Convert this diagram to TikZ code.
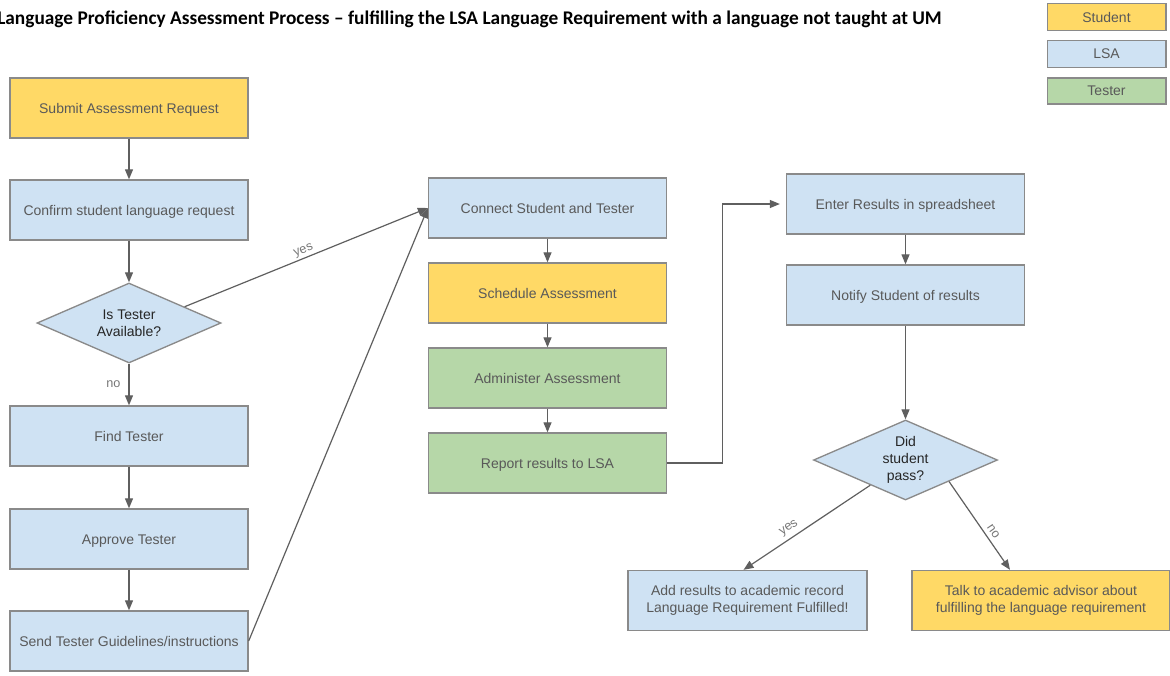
\documentclass[tikz,border=0pt]{standalone}
\usepackage{fontspec}
\setmainfont{Liberation Sans}
\newfontfamily\titlefont{Carlito}
\usetikzlibrary{shapes.geometric,arrows.meta,calc}
\definecolor{stud}{HTML}{FFD966}
\definecolor{lsa}{HTML}{CFE2F3}
\definecolor{tst}{HTML}{B6D7A8}
\definecolor{bline}{HTML}{8A8A8A}
\definecolor{aline}{HTML}{5F5F5F}
\definecolor{btext}{HTML}{595959}
\definecolor{lbl}{HTML}{777777}
\tikzset{
  boxbase/.style={draw=bline, line width=1pt, minimum width=178.5pt, minimum height=45pt, inner sep=0pt, align=center, text=btext, font=\fontsize{10.5pt}{12.6pt}\selectfont},
  box/.style={boxbase, text height=9pt, text depth=1.5pt},
  legbox/.style={draw=bline, line width=1pt, minimum width=89pt, minimum height=20.5pt, inner sep=0pt, text=btext, font=\fontsize{10.5pt}{12.6pt}\selectfont},
  decision/.style={diamond, aspect=2.3, draw=bline, line width=1pt, fill=lsa, minimum width=138pt, minimum height=60pt, inner sep=0pt, align=center, text=black!85, font=\fontsize{10.5pt}{12.75pt}\selectfont},
  arr/.style={draw=aline, line width=0.9pt, -{Triangle[length=7.5pt,width=6pt]}},
  elabel/.style={text=lbl, font=\fontsize{9.5pt}{11pt}\selectfont, inner sep=1pt}
}
\begin{document}
\begin{tikzpicture}[x=0.75pt,y=-0.75pt]
\useasboundingbox (0,0) rectangle (1170,675);
% title
\node[anchor=base west, inner sep=0pt, font=\titlefont\bfseries\fontsize{14.5pt}{17pt}\selectfont] (title) at (-3,24) {Language Proficiency Assessment Process – fulfilling the LSA Language Requirement with a language not taught at UM};
% legend
\node[legbox, fill=stud] (legstud) at (1106.5,17) {Student};
\node[legbox, fill=lsa] (leglsa) at (1106.5,54) {LSA};
\node[legbox, fill=tst, minimum height=19.5pt] (legtst) at (1106.5,91) {Tester};
% left column
\node[box, fill=stud] (submit) at (129,108) {Submit Assessment Request};
\node[box, fill=lsa] (confirm) at (129,210) {Confirm student language request};
\node[decision] (dec1) at (129,323) {Is Tester\\Available?};
\node[box, fill=lsa] (find) at (129,436) {Find Tester};
\node[box, fill=lsa] (approve) at (129,539) {Approve Tester};
\node[box, fill=lsa] (send) at (129,641) {Send Tester Guidelines/instructions};
% middle column
\node[box, fill=lsa] (connect) at (547.5,208) {Connect Student and Tester};
\node[box, fill=stud] (schedule) at (547.5,293) {Schedule Assessment};
\node[box, fill=tst] (administer) at (547.5,378) {Administer Assessment};
\node[box, fill=tst] (report) at (547.5,463) {Report results to LSA};
% right column
\node[box, fill=lsa] (enter) at (905.5,204) {Enter Results in spreadsheet};
\node[box, fill=lsa] (notify) at (905.5,295) {Notify Student of results};
\node[decision] (dec2) at (905.5,460) {Did\\student\\pass?};
\node[boxbase, fill=lsa, minimum width=179.25pt] (add) at (747.5,600.5) {Add results to academic record\\Language Requirement Fulfilled!};
\node[boxbase, fill=stud, minimum width=193.5pt] (talk) at (1041,600.5) {Talk to academic advisor about\\fulfilling the language requirement};
% connectors
\draw[arr] (submit) -- (confirm);
\draw[arr] (confirm) -- (dec1);
\draw[arr] (dec1) -- node[elabel, left=5pt] {no} (find);
\draw[arr] ($(dec1.north)!0.6!(dec1.east)$) -- node[elabel, sloped, above, pos=0.5] {yes} (connect.west);
\draw[arr] (find) -- (approve);
\draw[arr] (approve) -- (send);
\draw[arr] (send.east) -- (connect.west);
\draw[arr] (connect) -- (schedule);
\draw[arr] (schedule) -- (administer);
\draw[arr] (administer) -- (report);
\draw[arr] (report.east) -- ++(55,0) coordinate (bend) |- ($(enter.west)+(-6,0)$);
\draw[arr] (enter) -- (notify);
\draw[arr] (notify) -- (dec2);
\draw[arr] ($(dec2.west)!0.62!(dec2.south)$) -- node[elabel, sloped, above=2pt, pos=0.6] {yes} ($(add.north)+(-4,0)$);
\draw[arr] ($(dec2.south)!0.47!(dec2.east)$) -- node[elabel, sloped, above=2pt, pos=0.62] {no} ($(talk.north)+(-31,0)$);
\end{tikzpicture}
\end{document}
